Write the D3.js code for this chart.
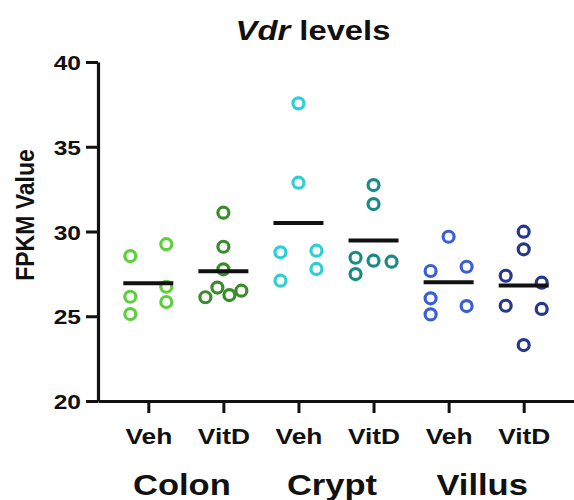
<!DOCTYPE html>
<html>
<head>
<meta charset="utf-8">
<script src="https://cdn.jsdelivr.net/npm/d3@7"></script>
<style>
	body { margin: 0; background: #fff; }
	text { font-family: 'Liberation Sans', Arial, sans-serif; font-weight: bold; fill: #111; }
</style>
</head>
<body>
<div id="app"></div>
<script>
// values (FPKM), one array per group
const treatments = ['Veh', 'VitD', 'Veh', 'VitD', 'Veh', 'VitD'];
const tissues = ['Colon', 'Crypt', 'Villus'];
const colonVeh = [25.13, 25.84, 26.15, 26.74, 28.55, 29.25];
const colonVitD = [26.12, 26.51, 26.69, 26.25, 27.77, 29.10, 31.11];
const cryptVeh = [27.10, 27.79, 28.77, 28.87, 32.88, 37.56];
const cryptVitD = [28.45, 28.22, 28.28, 27.49, 31.62, 32.74];
const villusVeh = [25.11, 25.60, 26.06, 27.67, 27.92, 29.69];
const villusVitD = [23.30, 25.62, 25.43, 27.39, 26.98, 28.95, 29.99];
const yTicks = [20, 25, 30, 35, 40];

const groups = [colonVeh, colonVitD, cryptVeh, cryptVitD, villusVeh, villusVitD];
const colors = ['#5dcf3b', '#3a8b2b', '#2dd0d2', '#1b8a87', '#3b5fd2', '#26388c'];

const width = 574;
const height = 500;
const stretch = 1.17; // the source picture is a bit wider than tall
const colStep = 18;   // horizontal spacing of scatter columns
const hitDist = 12.6; // overlap distance between two dots

const svg = d3.select('#app').append('svg')
	.attr('width', width)
	.attr('height', height);

const x = d3.scalePoint()
	.domain(d3.range(groups.length))
	.range([98, 574])
	.padding(0.67);

const y = d3.scaleLinear()
	.domain([20, 40])
	.range([401, 62]);

// place dots of one group side by side when they would overlap
const layout = (values) => {
	const placed = [];
	const cands = [-1, 1, -1 / 3, 1 / 3, 0, -2 / 3, 2 / 3];
	values.forEach((v, i) => {
		const py = y(v);
		const alone = values.every((w, j) => j === i || Math.abs(y(w) - py) >= hitDist);
		let off = 0;
		if (!alone) {
			off = cands.find((c) => placed.every((p) => Math.hypot(p.off - c * colStep, p.py - py) >= hitDist));
			off = off === undefined ? 0 : off * colStep;
		}
		placed.push({ v, py, off });
	});
	return placed;
};

// axes
const yAxis = svg.append('g')
	.attr('transform', 'translate(98,0)')
	.call(d3.axisLeft(y).tickValues(yTicks).tickSize(12).tickSizeOuter(0));

const xAxis = svg.append('g')
	.attr('transform', 'translate(0,401)')
	.call(d3.axisBottom(x).tickSize(12).tickSizeOuter(0).tickFormat((d) => treatments[d]));

[yAxis, xAxis].forEach((ax) => {
	ax.select('.domain').attr('stroke', '#111').attr('stroke-width', 3.2);
	ax.selectAll('.tick line').attr('stroke', '#111').attr('stroke-width', 3);
});

yAxis.selectAll('.tick text')
	.attr('x', null)
	.attr('dy', null)
	.attr('font-size', 21)
	.attr('fill', '#111')
	.attr('transform', `translate(-17,7.5) scale(${stretch},1)`);

xAxis.selectAll('.tick text')
	.attr('y', null)
	.attr('dy', null)
	.attr('font-size', 22.5)
	.attr('fill', '#111')
	.attr('transform', `translate(0,43) scale(${stretch},1)`);

// dots
groups.forEach((vals, gi) => {
	const g = svg.append('g');
	g.selectAll('circle')
		.data(layout(vals))
		.join('circle')
		.attr('cx', (d) => x(gi) + d.off)
		.attr('cy', (d) => d.py)
		.attr('r', 5.5)
		.attr('fill', 'none')
		.attr('stroke', colors[gi])
		.attr('stroke-width', 3.2);

	const m = d3.mean(vals);
	g.append('line')
		.attr('x1', x(gi) - 25)
		.attr('x2', x(gi) + 25)
		.attr('y1', y(m))
		.attr('y2', y(m))
		.attr('stroke', '#111')
		.attr('stroke-width', 4);
});

// tissue labels under each pair
svg.append('g')
	.selectAll('text')
	.data(tissues)
	.join('text')
	.attr('text-anchor', 'middle')
	.attr('font-size', 29.5)
	.attr('transform', (d, i) => `translate(${(x(i * 2) + x(i * 2 + 1)) / 2 - 4},495) scale(${stretch},1)`)
	.text((d) => d);

// title
const title = svg.append('text')
	.attr('text-anchor', 'middle')
	.attr('font-size', 28)
	.attr('transform', `translate(313,40) scale(${stretch},1)`);
title.append('tspan').attr('font-style', 'italic').text('Vdr');
title.append('tspan').text(' levels');

// y axis title
svg.append('text')
	.attr('text-anchor', 'middle')
	.attr('font-size', 23)
	.attr('transform', 'translate(34,215) rotate(-90) scale(1,1.1)')
	.text('FPKM Value');
</script>
</body>
</html>
